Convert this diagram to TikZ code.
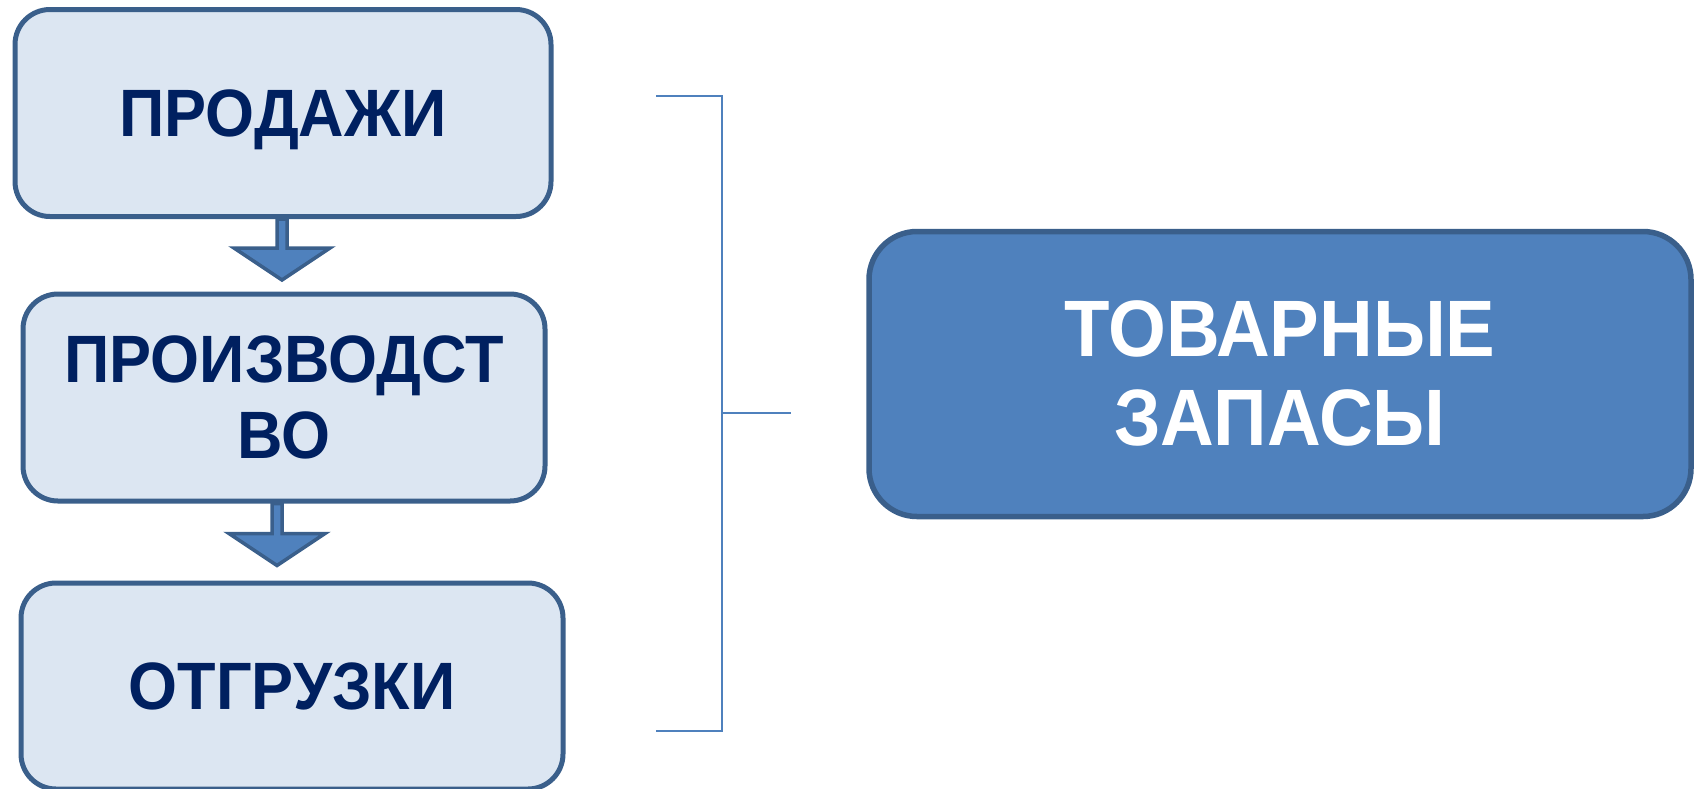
\documentclass[tikz,border=0pt]{standalone}
\usepackage{fontspec}
\setmainfont{Liberation Sans}
\newfontfamily\darkfont[FakeStretch=0.94]{Liberation Sans}
\newfontfamily\whitefont[FakeStretch=0.93]{Liberation Sans}
\usetikzlibrary{calc}
\definecolor{boxfill}{HTML}{DCE6F2}
\definecolor{boxline}{HTML}{3A5F8B}
\definecolor{navy}{HTML}{002060}
\definecolor{midblue}{HTML}{4F81BD}
\tikzset{
  lightbox/.style={draw=boxline, line width=5pt, fill=boxfill, rounded corners=35pt,
    text=navy, font=\darkfont\fontsize{67}{76}\selectfont\bfseries, align=center, inner sep=0pt},
  darkbox/.style={draw=boxline, line width=5.5pt, fill=midblue, rounded corners=48pt,
    text=white, font=\whitefont\fontsize{80}{90}\selectfont\bfseries, align=center, inner sep=0pt},
  blockarrow/.style={draw=boxline, line width=3.5pt, fill=midblue, line join=miter},
  bracketline/.style={draw=midblue, line width=2.5pt}
}
\begin{document}
\begin{tikzpicture}[x=1pt,y=-1pt]
\useasboundingbox (0,0) rectangle (1695,788);
% boxes
\node[lightbox, minimum width=536pt, minimum height=207pt] (b1) at (283,113) {};
\node[lightbox, minimum width=522pt, minimum height=207pt] (b2) at (284,397.5) {};
\node[lightbox, minimum width=542pt, minimum height=206pt] (b3) at (292,686) {};
\node[darkbox, minimum width=822pt, minimum height=285pt] (b4) at (1280,374) {};
% texts
\node[lightbox, draw=none, fill=none, anchor=base] (t1) at ($(b1.center)+(0,23)$) {ПРОДАЖИ};
\node[lightbox, draw=none, fill=none, anchor=base] (t2a) at ($(b2.center)+(0,-15)$) {ПРОИЗВОДСТ};
\node[lightbox, draw=none, fill=none, anchor=base] (t2b) at ($(b2.center)+(0,61)$) {ВО};
\node[lightbox, draw=none, fill=none, anchor=base] (t3) at ($(b3.center)+(0,23)$) {ОТГРУЗКИ};
\node[darkbox, draw=none, fill=none, anchor=base] (t4a) at ($(b4.center)+(0,-18)$) {ТОВАРНЫЕ};
\node[darkbox, draw=none, fill=none, anchor=base] (t4b) at ($(b4.center)+(0,71)$) {ЗАПАСЫ};
% block arrows
\draw[blockarrow] ($(b1.south)+(-6,0)$) -- ++(0,29) -- ++(-43,0) -- ++(48,32) -- ++(48,-32) -- ++(-43,0) -- ++(0,-29) -- cycle;
\draw[blockarrow] ($(b2.south)+(-12,0)$) -- ++(0,30) -- ++(-43,0) -- ++(48,32) -- ++(48,-32) -- ++(-43,0) -- ++(0,-30) -- cycle;
% bracket
\coordinate (bt) at (656,96);
\coordinate (btc) at (722,96);
\coordinate (bbc) at (722,731);
\coordinate (bb) at (656,731);
\coordinate (bm) at (722,413);
\coordinate (bmt) at (791,413);
\draw[bracketline] (bt) -- (btc) -- (bbc) -- (bb);
\draw[bracketline] (bm) -- (bmt);
\end{tikzpicture}
\end{document}
